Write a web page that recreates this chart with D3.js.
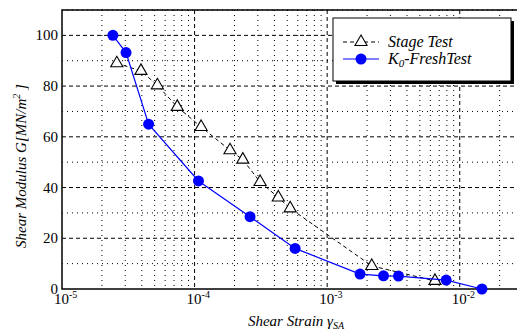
<!DOCTYPE html>
<html>
<head>
<meta charset="utf-8">
<script src="https://cdn.jsdelivr.net/npm/d3@7"></script>
<style>
  body { margin: 0; background: #fff; }
  svg { display: block; }
  .major { stroke: #000; stroke-width: 1; stroke-dasharray: 4,3; fill: none; }
  .minor { stroke: #000; stroke-width: 1; stroke-dasharray: 1,4; fill: none; }
</style>
</head>
<body>
<div id="chart"></div>
<script>
const stageStrain = [2.59e-5, 3.94e-5, 5.24e-5, 7.4e-5, 1.12e-4, 1.85e-4, 2.31e-4, 3.12e-4, 4.28e-4, 5.26e-4, 2.17e-3, 6.5e-3];
const stageG      = [89, 86, 80.3, 71.8, 63.9, 54.7, 51, 42.2, 36.1, 31.8, 9.1, 3.2];

const freshStrain = [2.42e-5, 3.04e-5, 4.5e-5, 1.07e-4, 2.62e-4, 5.73e-4, 1.77e-3, 2.66e-3, 3.45e-3, 7.9e-3, 1.47e-2];
const freshG      = [100, 93.2, 65, 42.6, 28.5, 16, 5.9, 5.2, 5.1, 3.5, 0];

const yTicks = [0, 20, 40, 60, 80, 100];
const yMinor = [10, 30, 50, 70, 90, 110];
const xDecades = [-5, -4, -3, -2];

const W = 517, H = 331;
const pLeft = 62, pTop = 10, pRight = 523, pBottom = 289;
const serif = "'Liberation Serif', 'Times New Roman', Times, 'DejaVu Serif', serif";

const svg = d3.select('#chart').append('svg')
    .attr('width', W).attr('height', H)
    .attr('font-family', serif);

const x = d3.scaleLog().domain([1e-5, 3e-2]).range([pLeft, pRight]);
const y = d3.scaleLinear().domain([0, 110]).range([pBottom, pTop]);

// grid
const grid = svg.append('g');
const minorX = [];
xDecades.forEach(e => {
    for (let m = 2; m <= 9; m++) {
        const v = m * Math.pow(10, e);
        if (v < 3e-2) minorX.push(v);
    }
});
grid.selectAll('.vminor').data(minorX).enter().append('line')
    .attr('class', 'minor')
    .attr('x1', d => x(d)).attr('x2', d => x(d))
    .attr('y1', pTop).attr('y2', pBottom);
grid.selectAll('.hminor').data(yMinor).enter().append('line')
    .attr('class', 'minor')
    .attr('x1', pLeft).attr('x2', pRight)
    .attr('y1', d => y(d)).attr('y2', d => y(d));
grid.selectAll('.vmajor').data(xDecades.slice(1)).enter().append('line')
    .attr('class', 'major')
    .attr('x1', d => x(Math.pow(10, d))).attr('x2', d => x(Math.pow(10, d)))
    .attr('y1', pTop).attr('y2', pBottom);
grid.selectAll('.hmajor').data(yTicks.slice(1)).enter().append('line')
    .attr('class', 'major')
    .attr('x1', pLeft).attr('x2', pRight)
    .attr('y1', d => y(d)).attr('y2', d => y(d));

// frame
svg.append('rect')
    .attr('x', pLeft).attr('y', pTop)
    .attr('width', pRight - pLeft).attr('height', pBottom - pTop)
    .attr('fill', 'none').attr('stroke', '#000').attr('stroke-width', 1.5);

// y tick labels
svg.append('g').selectAll('text').data(yTicks).enter().append('text')
    .attr('x', pLeft - 4)
    .attr('y', d => y(d) + 5)
    .attr('text-anchor', 'end')
    .attr('font-family', serif)
    .attr('font-size', 15)
    .text(d => d);

// x tick labels 10^n
const xl = svg.append('g').selectAll('text').data(xDecades).enter().append('text')
    .attr('x', d => x(Math.pow(10, d)) - 8)
    .attr('y', pBottom + 15)
    .attr('font-family', serif)
    .attr('font-size', 15);
xl.append('tspan').text('10');
xl.append('tspan').attr('dy', -6).attr('font-size', 10).text(d => d);

// axis titles
const xt = svg.append('text')
    .attr('x', 296).attr('y', 326)
    .attr('text-anchor', 'middle')
    .attr('font-family', serif)
    .attr('font-size', 15)
    .attr('font-style', 'italic');
xt.append('tspan').text('Shear Strain γ');
xt.append('tspan').attr('dy', 3).attr('font-size', 10).text('SA');

const yt = svg.append('text')
    .attr('transform', 'translate(26,166) rotate(-90)')
    .attr('text-anchor', 'middle')
    .attr('font-family', serif)
    .attr('font-size', 15)
    .attr('font-style', 'italic');
yt.append('tspan').text('Shear Modulus G[MN/m');
yt.append('tspan').attr('dy', -6).attr('font-size', 10).text('2');
yt.append('tspan').attr('dy', 6).text(' ]');

// series
const stage = stageStrain.map((s, i) => ({ s: s, g: stageG[i] }));
const fresh = freshStrain.map((s, i) => ({ s: s, g: freshG[i] }));

const line = d3.line().x(d => x(d.s)).y(d => y(d.g));

svg.append('path').datum(stage)
    .attr('d', line)
    .attr('fill', 'none').attr('stroke', '#000')
    .attr('stroke-width', 1).attr('stroke-dasharray', '4,3');

const tri = d3.symbol().type(d3.symbolTriangle).size(64);
svg.append('g').selectAll('path').data(stage).enter().append('path')
    .attr('d', tri)
    .attr('transform', d => `translate(${x(d.s)},${y(d.g)})`)
    .attr('fill', '#fff').attr('stroke', '#000').attr('stroke-width', 1.1);

svg.append('path').datum(fresh)
    .attr('d', line)
    .attr('fill', 'none').attr('stroke', '#0000ff').attr('stroke-width', 1.2);

svg.append('g').selectAll('circle').data(fresh).enter().append('circle')
    .attr('cx', d => x(d.s)).attr('cy', d => y(d.g))
    .attr('r', 5.5)
    .attr('fill', '#0000ff');

// legend
const lg = svg.append('g');
lg.append('rect').attr('x', 336).attr('y', 21).attr('width', 178).attr('height', 63).attr('fill', '#000');
lg.append('rect').attr('x', 333).attr('y', 18).attr('width', 178).attr('height', 63)
    .attr('fill', '#fff').attr('stroke', '#000').attr('stroke-width', 1);

lg.append('line').attr('x1', 343).attr('x2', 379).attr('y1', 42).attr('y2', 42)
    .attr('stroke', '#000').attr('stroke-dasharray', '4,3');
lg.append('path').attr('d', tri).attr('transform', 'translate(361,42)')
    .attr('fill', '#fff').attr('stroke', '#000').attr('stroke-width', 1.1);
lg.append('text').attr('x', 388).attr('y', 47)
    .attr('font-family', serif)
    .attr('font-size', 16).attr('font-style', 'italic').text('Stage Test');

lg.append('line').attr('x1', 343).attr('x2', 379).attr('y1', 59).attr('y2', 59)
    .attr('stroke', '#0000ff').attr('stroke-width', 1.2);
lg.append('circle').attr('cx', 361).attr('cy', 59).attr('r', 5.5).attr('fill', '#0000ff');
const k0 = lg.append('text').attr('x', 388).attr('y', 64)
    .attr('font-family', serif)
    .attr('font-size', 16).attr('font-style', 'italic');
k0.append('tspan').text('K');
k0.append('tspan').attr('dy', 3).attr('font-size', 11).text('0');
k0.append('tspan').attr('dy', -3).text('-FreshTest');
</script>
</body>
</html>
